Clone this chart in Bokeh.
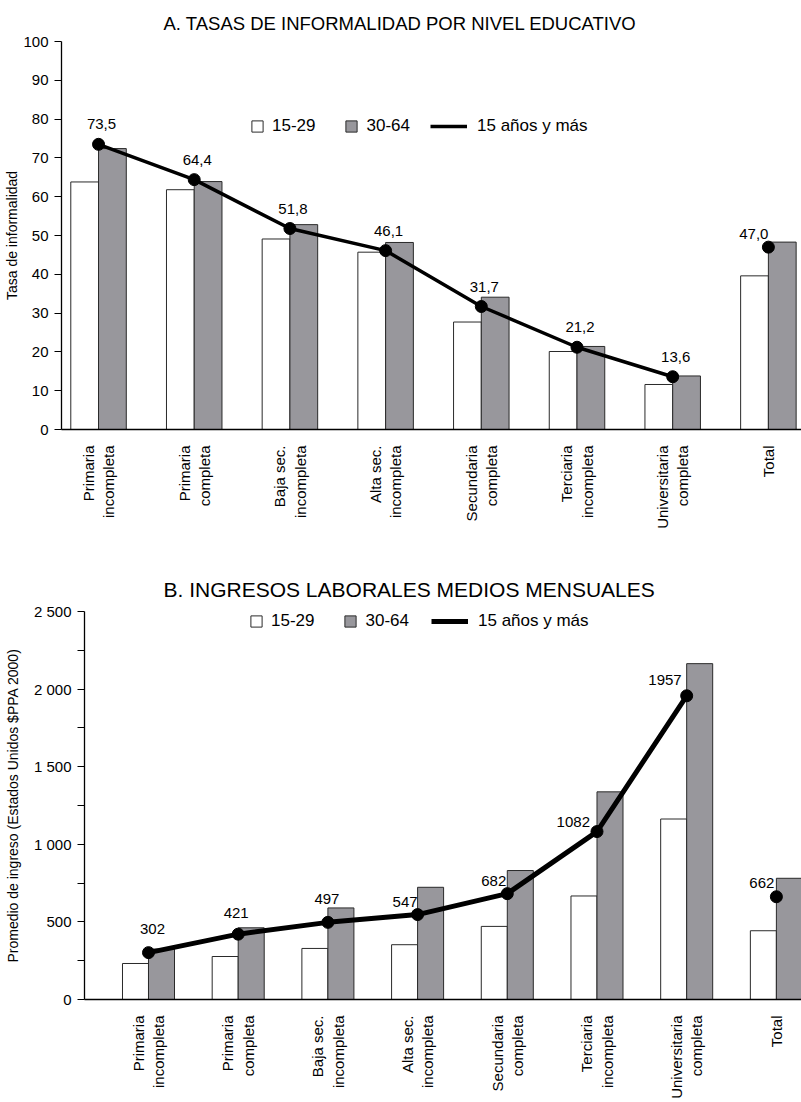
import math
from bokeh.plotting import figure
from bokeh.models import (ColumnDataSource, Legend, LegendItem, FixedTicker, Range1d)
from bokeh.embed import file_html
from bokeh.resources import INLINE
from bokeh.core.properties import value

# ---------------- data ----------------
categories = ["Primaria\nincompleta", "Primaria\ncompleta", "Baja sec.\nincompleta",
              "Alta sec.\nincompleta", "Secundaria\ncompleta", "Terciaria\nincompleta",
              "Universitaria\ncompleta", "Total"]

inf_15_29 = [63.8, 61.8, 49.1, 45.7, 27.7, 20.1, 11.6, 39.6]
inf_30_64 = [72.4, 63.9, 52.8, 48.2, 34.1, 21.4, 13.8, 48.3]
inf_15plus = [73.5, 64.4, 51.8, 46.1, 31.7, 21.2, 13.6, 47.0]
inf_labels = ["73,5", "64,4", "51,8", "46,1", "31,7", "21,2", "13,6", "47,0"]

ing_15_29 = [232, 277, 329, 353, 471, 667, 1163, 443]
ing_30_64 = [325, 462, 590, 723, 831, 1338, 2164, 781]
ing_15plus = [302, 421, 497, 547, 682, 1082, 1957, 662]
ing_labels = ["302", "421", "497", "547", "682", "1082", "1957", "662"]

y_ticks_a = [0, 10, 20, 30, 40, 50, 60, 70, 80, 90, 100]
y_ticks_b = [0, 500, 1000, 1500, 2000, 2500]
y_minor_b = [250, 750, 1250, 1750, 2250]
y_tick_labels_b = ["0", "500", "1 000", "1 500", "2 000", "2 500"]

legend_labels = ["15-29", "30-64", "15 años y más"]
title_a = "A. TASAS DE INFORMALIDAD POR NIVEL EDUCATIVO"
title_b = "B. INGRESOS LABORALES MEDIOS MENSUALES"
ylabel_a = "Tasa de informalidad"
ylabel_b = "Promedio de ingreso (Estados Unidos $PPA 2000)"

# ---------------- style ----------------
FONT = "Liberation Sans"
GREY = "#98979c"
EDGE = "#2a2a2a"


def make_chart(title, ylabel, w_vals, g_vals, l_vals, l_labels, y_end, xr, bw,
               width, height, mbl, mbt, mbb, title_size, title_standoff, title_offset,
               line_w, label_standoff, leg_x1, leg_x2, leg_y,
               center_off, right_off, right_idx):
    n = len(categories)
    idx = list(range(n))
    p = figure(width=width, height=height, output_backend="svg", toolbar_location=None,
               x_range=Range1d(*xr), y_range=Range1d(0, y_end), tools="",
               min_border_left=mbl, min_border_right=0, min_border_top=mbt,
               min_border_bottom=mbb)
    p.outline_line_color = None
    p.xgrid.grid_line_color = None
    p.ygrid.grid_line_color = None
    p.background_fill_color = "white"
    p.border_fill_color = "white"

    src = ColumnDataSource(dict(
        xw=[i - bw / 2 for i in idx], xg=[i + bw / 2 for i in idx],
        w=w_vals, g=g_vals))
    rw = p.vbar(x="xw", top="w", width=bw, bottom=0, source=src,
                fill_color="white", line_color=EDGE, line_width=1)
    rg = p.vbar(x="xg", top="g", width=bw, bottom=0, source=src,
                fill_color=GREY, line_color=EDGE, line_width=1)

    rl = p.line(x=idx[:-1], y=l_vals[:-1], line_color="black", line_width=line_w)
    p.scatter(x=idx, y=l_vals, size=12, fill_color="black", line_color="black")

    # value labels
    c_idx = [i for i in idx if i not in right_idx]
    csrc = ColumnDataSource(dict(
        x=c_idx, y=[l_vals[i] for i in c_idx],
        t=[l_labels[i] for i in c_idx],
        xo=[center_off[i][0] for i in c_idx], yo=[center_off[i][1] for i in c_idx]))
    p.text(x="x", y="y", text="t", x_offset="xo", y_offset="yo", source=csrc,
           text_align="center", text_baseline="middle",
           text_font=value(FONT), text_font_size="15px", text_color="black")
    rsrc = ColumnDataSource(dict(
        x=list(right_idx), y=[l_vals[i] for i in right_idx],
        t=[l_labels[i] for i in right_idx],
        xo=[right_off[i][0] for i in right_idx], yo=[right_off[i][1] for i in right_idx]))
    p.text(x="x", y="y", text="t", x_offset="xo", y_offset="yo", source=rsrc,
           text_align="right", text_baseline="middle",
           text_font=value(FONT), text_font_size="15px", text_color="black")

    # title
    p.title.text = title
    p.title.align = "left"
    p.title.text_font = FONT
    p.title.text_font_size = title_size
    p.title.text_font_style = "normal"
    p.title.text_color = "black"
    p.title.standoff = title_standoff
    p.title.offset = title_offset

    # x axis
    xa = p.xaxis[0]
    xa.ticker = FixedTicker(ticks=idx)
    xa.major_label_overrides = {i: categories[i] for i in idx}
    xa.major_label_orientation = math.pi / 2
    xa.major_tick_line_color = None
    xa.minor_tick_line_color = None
    xa.axis_line_color = "black"
    xa.axis_line_width = 1.3
    xa.major_label_text_font = FONT
    xa.major_label_text_font_size = "15px"
    xa.major_label_text_color = "black"
    xa.major_label_standoff = 10

    # y axis
    ya = p.yaxis[0]
    ya.axis_label = ylabel
    ya.axis_label_text_font = FONT
    ya.axis_label_text_font_size = "14px"
    ya.axis_label_text_font_style = "normal"
    ya.axis_label_text_color = "black"
    ya.axis_label_standoff = label_standoff
    ya.axis_line_color = "black"
    ya.axis_line_width = 1.3
    ya.major_tick_out = 7
    ya.major_tick_in = 0
    ya.major_tick_line_color = "black"
    ya.major_label_text_font = FONT
    ya.major_label_text_font_size = "15px"
    ya.major_label_text_color = "black"
    ya.major_label_standoff = 6

    # legends
    common = dict(orientation="horizontal", padding=0, margin=0, border_line_color=None,
                  background_fill_alpha=0, label_text_font=FONT, label_text_font_size="17px",
                  label_text_color="black", glyph_height=14, label_height=14)
    leg1 = Legend(items=[LegendItem(label=legend_labels[0], renderers=[rw]),
                         LegendItem(label=legend_labels[1], renderers=[rg])],
                  location=(leg_x1, leg_y), glyph_width=14, label_standoff=8, spacing=29,
                  **common)
    leg2 = Legend(items=[LegendItem(label=legend_labels[2], renderers=[rl])],
                  location=(leg_x2, leg_y), glyph_width=37, label_standoff=10, spacing=0,
                  **common)
    p.add_layout(leg1)
    p.add_layout(leg2)
    return p, ya


# ---------- chart A ----------
off_a_center = {i: (3, -20) for i in range(8)}
off_a_right = {7: (0, -13)}
pA, yaA = make_chart(title_a, ylabel_a, inf_15_29, inf_30_64, inf_15plus, inf_labels,
                     100, (-0.387, 7.346), 0.29, 801, 544, 61, 41, 115, "18.5px", 16, 102,
                     3.5, 0, 189, 369, 293, off_a_center, off_a_right, [7])
yaA.ticker = FixedTicker(ticks=y_ticks_a)
yaA.minor_tick_line_color = None

# ---------- chart B ----------
off_b_center = {0: (4, -24), 1: (-2, -21), 2: (-1, -23)}
off_b_right = {3: (0, -13), 4: (-1, -13), 5: (-7, -10), 6: (-5, -16), 7: (-2, -14)}
pB, yaB = make_chart(title_b, ylabel_b, ing_15_29, ing_30_64, ing_15plus, ing_labels,
                     2500, (-0.7135, 7.28), 0.29, 801, 558, 84, 67, 103, "21px", 22, 79,
                     5, 10, 165, 347, 368, off_b_center, off_b_right, [3, 4, 5, 6, 7])
yaB.ticker = FixedTicker(ticks=y_ticks_b, minor_ticks=y_minor_b)
yaB.major_label_overrides = {t: s for t, s in zip(y_ticks_b, y_tick_labels_b)}
yaB.minor_tick_out = 7
yaB.minor_tick_in = 0
yaB.minor_tick_line_color = "black"

open("out.html", "w").write(file_html([pA, pB], INLINE))
